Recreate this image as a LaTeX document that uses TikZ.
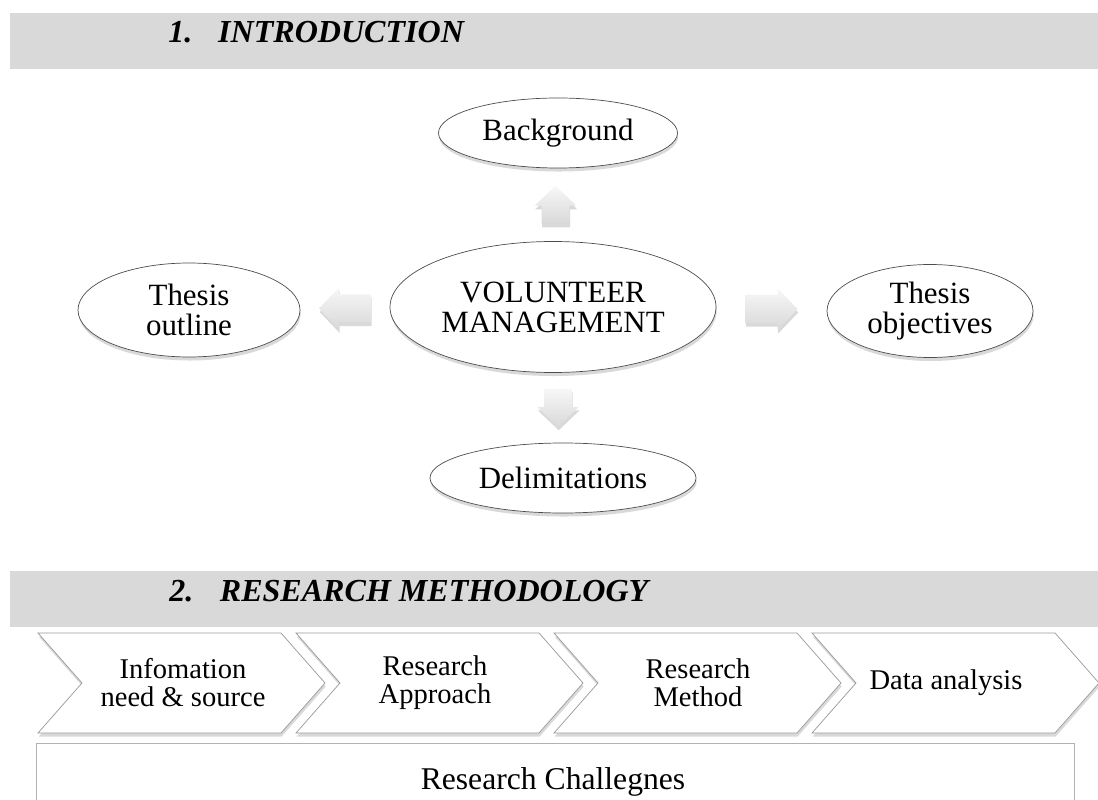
\documentclass[tikz,border=0pt]{standalone}
\usepackage{fontspec}
\setmainfont{Liberation Serif}
\newfontfamily\headfont{Liberation Serif}
\usetikzlibrary{shapes,shadows,calc}

% one unit of the drawing grid
\newdimen\pxu
\pxu=0.025cm

\definecolor{bandgray}{HTML}{D9D9D9}
\definecolor{linegray}{HTML}{4D4D4D}

\tikzstyle{band} = [fill=bandgray, draw=none]
\tikzstyle{heading} = [anchor=base west, inner sep=0pt,
    font=\headfont\bfseries\itshape\fontsize{22.8pt}{26pt}\selectfont]
\tikzstyle{softshadow} = [drop shadow={opacity=0.3, shadow xshift=0.5pt, shadow yshift=-2.5pt}]
\tikzstyle{topic} = [ellipse, draw=linegray, line width=0.5pt, fill=white, softshadow,
    inner sep=0pt, align=center, font=\fontsize{22pt}{21.3pt}\selectfont]
\tikzstyle{arrowfill} = [top color=gray!6, bottom color=gray!30, draw=none, softshadow]
\tikzstyle{chevron} = [draw=gray!80, line width=0.5pt, fill=white, softshadow]
\tikzstyle{steplabel} = [align=center, inner sep=0pt,
    font=\fontsize{20.3pt}{20pt}\selectfont]
\tikzstyle{frame} = [draw=gray!60, line width=0.6pt, fill=white]

% fat arrow pointing along +x, #1 = its length
\tikzset{
  pics/blockarrow/.style={code={
    \path[arrowfill] (-#1/2,-14) -- (#1/2-20,-14) -- (#1/2-20,-21) -- (#1/2,0)
        -- (#1/2-20,21) -- (#1/2-20,14) -- (-#1/2,14) -- cycle;
  }}
}

\begin{document}
\begin{tikzpicture}[x=0.025cm, y=-0.025cm]
    \useasboundingbox (0,0) rectangle (1098,800);

    % Section 1
    \fill[band] (10,13) rectangle (1098,69);
    \node[heading] (introTitle) at (168,43) {\makebox[35.5pt][l]{1.}INTRODUCTION};

    % Place nodes
    \node[topic, minimum width=326\pxu, minimum height=131\pxu] (hub) at (553,307) {VOLUNTEER\\MANAGEMENT};
    \node[topic, minimum width=239\pxu, minimum height=70\pxu] (background) at (558,133) {Background};
    \node[topic, minimum width=222\pxu, minimum height=94\pxu] (outline) at (189,310) {Thesis\\outline};
    \node[topic, minimum width=206\pxu, minimum height=93\pxu] (objectives) at (930,311) {Thesis\\objectives};
    \node[topic, minimum width=266\pxu, minimum height=70\pxu] (delimitations) at (563,478) {Delimitations};

    % Arrows out of the hub
    \pic[rotate=90] (toBackground) at ($(hub.north)!0.5!(background.south)$) {blockarrow=38};
    \pic[rotate=180] (toOutline) at ($(hub.west)!0.5!(outline.east)$) {blockarrow=52};
    \pic (toObjectives) at ($(hub.east)!0.5!(objectives.west)$) {blockarrow=52};
    \pic[rotate=-90] (toDelimitations) at ($(hub.south)!0.5!(delimitations.north)$) {blockarrow=38};

    % Section 2
    \fill[band] (10,571) rectangle (1098,627);
    \node[heading] (methodTitle) at (169,601) {\makebox[36pt][l]{2.}RESEARCH METHODOLOGY};

    % Process steps
    \foreach \x in {38,296,554,812}
        \draw[chevron] (\x,633) -- ++(243,0) -- ++(44,50) -- ++(-44,50) -- ++(-243,0) -- ++(44,-50) -- cycle;
    \node[steplabel] (information) at (183,683) {Infomation\\need \& source};
    \node[steplabel] (approach) at (435,683) {Research\\Approach};
    \node[steplabel] (method) at (698,683) {Research\\Method};
    \node[steplabel] (analysis) at (946,683) {Data analysis};

    \draw[frame] (36,743) rectangle (1074,830);
    \node[font=\fontsize{22.5pt}{25pt}\selectfont] (challenges) at (553,782) {Research Challegnes};
\end{tikzpicture}
\end{document}
